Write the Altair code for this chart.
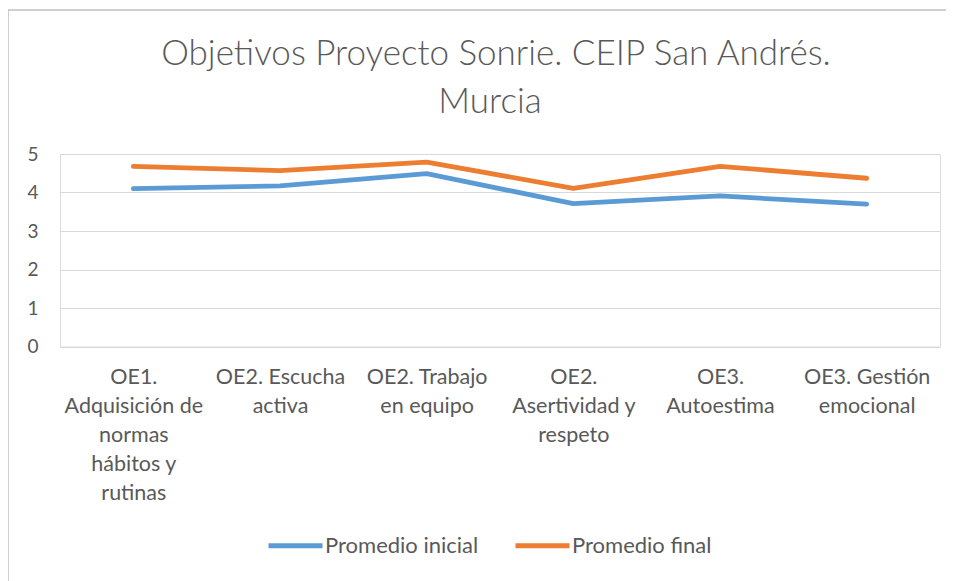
import altair as alt
import pandas as pd

categories = [
    "OE1. Adquisición de normas hábitos y rutinas",
    "OE2. Escucha activa",
    "OE2. Trabajo en equipo",
    "OE2. Asertividad y respeto",
    "OE3. Autoestima",
    "OE3. Gestión emocional",
]
label_lines = [
    ["OE1.", "Adquisición de", "normas", "hábitos y", "rutinas"],
    ["OE2. Escucha", "activa"],
    ["OE2. Trabajo", "en equipo"],
    ["OE2.", "Asertividad y", "respeto"],
    ["OE3.", "Autoestima"],
    ["OE3. Gestión", "emocional"],
]
series_names = ["Promedio inicial", "Promedio final"]
promedio_inicial = [4.10, 4.17, 4.49, 3.71, 3.91, 3.70]
promedio_final = [4.68, 4.57, 4.79, 4.11, 4.68, 4.37]
y_ticks = [0, 1, 2, 3, 4, 5]
title_lines = ["Objetivos Proyecto Sonrie. CEIP San Andrés.", "Murcia"]

rows = []
for name, vals in zip(series_names, [promedio_inicial, promedio_final]):
    for i, (c, v) in enumerate(zip(categories, vals)):
        rows.append({"Objetivo": c, "Serie": name, "Valor": v, "orden": i})
df = pd.DataFrame(rows)

parts = []
for c, lines_ in zip(categories, label_lines):
    arr = "[" + ",".join("'" + l + "'" for l in lines_) + "]"
    parts.append(f"datum.value == '{c}' ? {arr}")
label_expr = " : ".join(parts) + " : datum.label"

FONT = "Lato"
GRAY = "#595959"

lines = alt.Chart(df).mark_line(strokeWidth=4.8, strokeCap="round", strokeJoin="round").encode(
    x=alt.X(
        "Objetivo:N",
        sort=categories,
        scale=alt.Scale(paddingInner=1, paddingOuter=0.5),
        axis=alt.Axis(
            title=None,
            labelAngle=0,
            domain=False,
            ticks=False,
            grid=False,
            labelExpr=label_expr,
            labelFont=FONT,
            labelFontSize=21.5,
            labelColor=GRAY,
            labelLineHeight=29,
            labelBaseline="top",
            labelPadding=20,
            labelLimit=220,
        ),
    ),
    y=alt.Y(
        "Valor:Q",
        scale=alt.Scale(domain=[0, 5], nice=False, zero=True),
        axis=alt.Axis(
            title=None,
            values=y_ticks,
            domain=False,
            ticks=False,
            gridColor="#D9D9D9",
            gridWidth=1.2,
            labelFont=FONT,
            labelFontSize=19,
            labelColor=GRAY,
            labelPadding=22,
        ),
    ),
    color=alt.Color(
        "Serie:N",
        sort=series_names,
        scale=alt.Scale(domain=series_names, range=["#5B9BD5", "#ED7D31"]),
        legend=alt.Legend(
            title=None,
            orient="none",
            legendX=206,
            legendY=362,
            direction="horizontal",
            symbolType="stroke",
            symbolSize=2916,
            symbolStrokeWidth=4.8,
            labelFont=FONT,
            labelFontSize=22,
            labelColor=GRAY,
            labelOffset=0,
            columnPadding=26,
        ),
    ),
    order="orden:Q",
)

one = pd.DataFrame({"k": [0]})
border_left = alt.Chart(one).mark_rule(color="#BFBFBF", strokeWidth=1.5).encode(
    x=alt.value(-52), y=alt.value(-144), y2=alt.value(460)
)
border_top = alt.Chart(one).mark_rule(color="#BFBFBF", strokeWidth=1.5).encode(
    x=alt.value(-52), x2=alt.value(900), y=alt.value(-144)
)
title1 = alt.Chart(one).mark_text(
    font=FONT, fontSize=35, fontWeight=300, color=GRAY, align="center", baseline="alphabetic"
).encode(x=alt.value(436), y=alt.value(-89), text=alt.value(title_lines[0]))
title2 = alt.Chart(one).mark_text(
    font=FONT, fontSize=35, fontWeight=300, color=GRAY, align="center", baseline="alphabetic"
).encode(x=alt.value(430), y=alt.value(-41), text=alt.value(title_lines[1]))

chart = (
    alt.layer(border_left, border_top, title1, title2, lines)
    .properties(
        width=880,
        height=192.5,
        autosize=alt.AutoSizeParams(type="none"),
        padding={"left": 52, "top": 146, "right": 6, "bottom": 235},
    )
    .configure_view(stroke=None)
    .configure(background="white")
)

chart.save("out.html", embed_options={"renderer": "svg", "actions": False})
